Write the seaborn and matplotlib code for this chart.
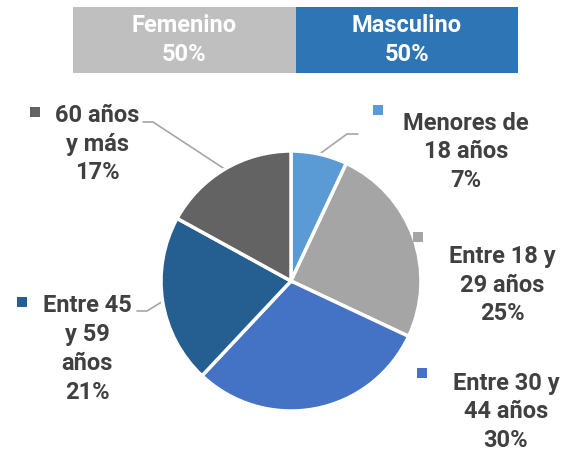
import numpy as np
import seaborn as sns
import matplotlib.pyplot as plt

# datos
generos = ['Femenino', 'Masculino']
genero_pct = [50, 50]
genero_colores = ['#BFBFBF', '#2E75B6']

edades = ['Menores de\n18 años', 'Entre 18 y\n29 años', 'Entre 30 y\n44 años',
          'Entre 45\ny 59\naños', '60 años\ny más']
edad_pct = [7, 25, 30, 21, 17]
edad_colores = ['#5B9BD5', '#A5A5A5', '#4472C4', '#255E91', '#636363']

sns.set_theme(style='white')
plt.rcParams['font.family'] = ['Roboto', 'DejaVu Sans']

W, H = 574, 453
fig = plt.figure(figsize=(W / 100, H / 100), dpi=100)

# pie (axes in pixel units, y upwards)
ax = fig.add_axes([0, 0, 1, 1])
cx, cy, r = 291, H - 281, 130
wedges, _ = ax.pie(edad_pct, colors=edad_colores, startangle=90, counterclock=False,
                   center=(cx, cy), radius=r,
                   wedgeprops=dict(edgecolor='white', linewidth=2.5))
ax.set_xlim(0, W)
ax.set_ylim(0, H)
ax.axis('off')

# label position (text center), marker position, leader elbow (pixel coords)
lab_pos = [(466, 152), (502, 285), (506, 412), (87, 349), (97, 144)]
mark_pos = [(378, 110), (418, 237), (422, 373), (22, 302), (35, 112)]
elbows = [[(347, 134), (358, 134)], None, None,
          [(147, 311), (137, 311)], [(153, 122), (143, 122)]]

fs = 17
txt_col = '#404040'
for i, (name, pct) in enumerate(zip(edades, edad_pct)):
    x, y = lab_pos[i]
    ax.text(x, H - y, f'{name}\n{pct}%', ha='center', va='center', fontsize=fs,
            fontweight='bold', color=txt_col, linespacing=1.32)
    mx, my = mark_pos[i]
    ax.scatter([mx], [H - my], marker='s', s=50, color=edad_colores[i], linewidths=0)
    if elbows[i] is not None:
        w = wedges[i]
        ang = np.deg2rad((w.theta1 + w.theta2) / 2)
        pts = [(cx + r * np.cos(ang), cy + r * np.sin(ang))] + [(px, H - py) for px, py in elbows[i]]
        xs, ys = zip(*pts)
        ax.plot(xs, ys, color='#A6A6A6', lw=1.2, zorder=0.5)

# barra superior de género
bx = fig.add_axes([73 / W, 1 - 73 / H, 445 / W, 66 / H])
left = 0
for g, p, c in zip(generos, genero_pct, genero_colores):
    bx.barh(0, p, left=left, height=1, color=c, linewidth=0)
    bx.text(left + p / 2, 0, f'{g}\n{p}%', ha='center', va='center', fontsize=fs,
            fontweight='bold', color='white', linespacing=1.32)
    left += p
bx.set_xlim(0, sum(genero_pct))
bx.set_ylim(-0.5, 0.5)
bx.axis('off')

fig.savefig('out.png', dpi=100)
